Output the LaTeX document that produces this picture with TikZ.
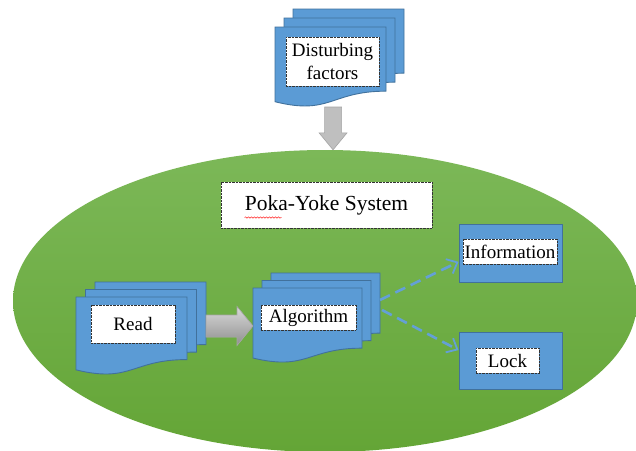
\documentclass[tikz,border=0pt]{standalone}
\usepackage{fontspec}
\setmainfont{Liberation Serif}
\newfontfamily\labelfont{Liberation Serif}
\usetikzlibrary{calc,arrows.meta,shapes.geometric,decorations.pathmorphing}

\definecolor{docblue}{RGB}{91,155,213}
\definecolor{docedge}{RGB}{65,113,156}
\definecolor{greentop}{RGB}{124,184,88}
\definecolor{greenbot}{RGB}{100,165,54}
\definecolor{arrowgray}{RGB}{191,191,191}
\definecolor{arrowedge}{RGB}{165,165,165}
\definecolor{linkblue}{RGB}{100,160,215}

\tikzset{
  docsheet/.style={fill=docblue, draw=docedge, line width=0.9pt},
  stack/.style={inner sep=0pt, outer sep=0pt, anchor=north west},
  label box/.style={fill=white, draw=black!80, line width=1pt,
    dash pattern=on 1pt off 0.4pt, inner sep=0pt,
    font=\labelfont\fontsize{19}{23}\selectfont, align=center},
  outcome/.style={fill=docblue, draw=docedge, line width=0.9pt,
    minimum width=103pt, minimum height=58pt, inner sep=0pt},
  blockarrow/.style={fill=arrowgray, draw=arrowedge, line width=0.6pt},
  link/.style={draw=linkblue, line width=2.6pt, dash pattern=on 11pt off 6pt,
    -{Straight Barb[length=9pt,width=16pt,line width=1.8pt]}},
}

% one sheet of a document shape: top-left x, y (y downwards), width, height
\newcommand\docsheet[4]{%
  \filldraw[docsheet] ({#1},{#2}) -- ({#1+#3},{#2}) -- ({#1+#3},{#2+0.802*#4})
    .. controls ({#1+0.5*#3},{#2+0.802*#4}) and ({#1+0.5*#3},{#2+1.107*#4})
    .. ({#1},{#2+0.934*#4}) -- cycle;}

% stack of three sheets plus a named node covering the whole stack
% #1 name, #2 x, #3 y, #4 width, #5 height, #6 step right, #7 step up
\newcommand\docstack[7]{%
  \docsheet{#2+2*#6}{#3-2*#7}{#4}{#5}
  \docsheet{#2+#6}{#3-#7}{#4}{#5}
  \docsheet{#2}{#3}{#4}{#5}
  \node[stack, minimum width={(#4+2*#6)*1pt}, minimum height={(#5+2*#7)*1pt}]
    (#1) at ({#2},{#3-2*#7}) {};}

\begin{document}
\begin{tikzpicture}[x=1pt,y=-1pt]
\useasboundingbox (0,0) rectangle (636,450);
\fill[white] (0,0) rectangle (636,450);
\clip (0,0) rectangle (636,450);

% the system
\node[ellipse, minimum width=624pt, minimum height=302pt, inner sep=0pt,
  top color=greentop, bottom color=greenbot] (sys) at (325,301) {};

% document stacks
\docstack{dist}{275}{27}{111}{80}{9}{9}
\docstack{read}{76}{297}{111}{78}{9.5}{7.5}
\docstack{algo}{253}{288}{109}{75}{9}{7.5}

% outcomes
\node[outcome] (info) at (510.5,253) {};
\node[outcome, minimum height=57pt] (lock) at (510.5,360.5) {};

% block arrows
\path[blockarrow] let \p1=($(dist.south west)!0.45!(dist.south east)$), \p2=(sys.north) in
  (\x1-8.5pt,\y1) -- (\x1+8.5pt,\y1) -- (\x1+8.5pt,\y2+17pt) -- (\x1+14pt,\y2+17pt)
  -- (\x1,\y2) -- (\x1-14pt,\y2+17pt) -- (\x1-8.5pt,\y2+17pt) -- cycle;
\path[blockarrow, top color=arrowgray!60!white, bottom color=arrowgray!75!black]
  let \p1=($(read.east)+(0,-2.5)$), \p2=(algo.west) in
  (\x1,\y1+11pt) -- (\x2-16pt,\y1+11pt) -- (\x2-16pt,\y1+19.5pt) -- (\x2,\y1)
  -- (\x2-16pt,\y1-19.5pt) -- (\x2-16pt,\y1-11pt) -- (\x1,\y1-11pt) -- cycle;

% dashed links
\draw[link] ($(algo.east)+(0,-18)$) -- ($(info.south west)!0.35!(info.north west)$);
\draw[link] ($(algo.east)+(2,-8)$) -- ($(lock.south west)!0.68!(lock.north west)$);

% labels
\node[label box, minimum width=93pt, minimum height=49pt] (distlbl) at (332.5,61.5) {Disturbing\\factors};
\node[label box, minimum width=84pt, minimum height=38pt] (readlbl) at (133,324) {Read};
\node[label box, minimum width=95pt, minimum height=25pt] (algolbl) at (308.5,317.5) {Algorithm};
\node[label box, minimum width=211pt, minimum height=46pt,
  font=\labelfont\fontsize{21.5}{25}\selectfont] (poka) at (326.5,205) {Poka-Yoke System};
\node[label box, minimum width=94pt, minimum height=25pt] (infolbl) at (510,251.5) {Information};
\node[label box, minimum width=63pt, minimum height=25pt] (locklbl) at (507.5,360.5) {Lock};

% spell-check squiggle under the first word
\draw[red!85, line width=0.5pt, decorate,
  decoration={snake, amplitude=0.7pt, segment length=3pt}]
  ($(poka.west)+(24,12.5)$) -- ++(37,0);
\end{tikzpicture}
\end{document}
